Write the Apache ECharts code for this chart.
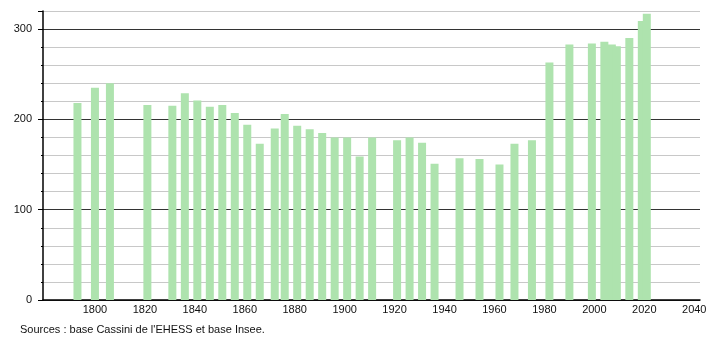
<!DOCTYPE html>
<html>
<head>
<meta charset="utf-8">
<script src="https://cdn.jsdelivr.net/npm/echarts@6/dist/echarts.min.js"></script>
<style>
html,body{margin:0;padding:0;background:#fff;}
#c{width:710px;height:340px;}
</style>
</head>
<body>
<div id="c"></div>
<script>
var years = [1793,1800,1806,1821,1831,1836,1841,1846,1851,1856,1861,1866,1872,1876,1881,1886,1891,1896,1901,1906,1911,1921,1926,1931,1936,1946,1954,1962,1968,1975,1982,1990,1999,2004,2007,2009,2014,2019,2021];
var population = [218,235,240,216,215,229,221,214,216,207,194,173,190,206,193,189,185,180,180,159,180,177,180,174,151,157,156,150,173,177,263,283,284,286,283,281,290,309,317];
var xTickLabels = [1800,1820,1840,1860,1880,1900,1920,1940,1960,1980,2000,2020,2040];
var yTickLabels = [0,100,200,300];
var sourceText = "Sources : base Cassini de l'EHESS et base Insee.";

var data = years.map(function(y,i){return [y, population[i]];});
var font = 'Liberation Sans, Arial, sans-serif';
var chart = echarts.init(document.getElementById('c'));
chart.setOption({
  animation:false,
  backgroundColor:'#fff',
  grid:{left:43,right:10,top:11,bottom:40,containLabel:false},
  xAxis:{
    type:'value', min:1779.2, max:2042.3,
    axisLine:{show:true,lineStyle:{color:'#000',width:1.5}},
    axisTick:{show:false},
    splitLine:{show:false},
    axisLabel:{customValues:xTickLabels,color:'#111',fontFamily:font,fontSize:11,margin:4,
      formatter:function(v){return String(v);}}
  },
  yAxis:[{
    type:'value', min:0, max:320, interval:20,
    axisLine:{show:true,lineStyle:{color:'#000',width:1.5}},
    axisTick:{show:true,length:2,lineStyle:{color:'#000'}},
    splitLine:{show:true,lineStyle:{color:['#333','#c8c8c8','#c8c8c8','#c8c8c8','#c8c8c8'],width:1.2}},
    axisLabel:{color:'#111',fontFamily:font,fontSize:11,margin:11,
      formatter:function(v){return yTickLabels.indexOf(v)>=0 ? String(v) : '';}}
  },{
    type:'value', min:0, max:320, interval:100, position:'left', offset:0,
    axisLine:{show:false},
    axisTick:{show:true,length:5,lineStyle:{color:'#000'}},
    splitLine:{show:false},
    axisLabel:{show:false}
  }],
  series:[{
    type:'bar', data:data, barWidth:8, yAxisIndex:0,
    itemStyle:{color:'#aee3ae'},
    z:3
  }],
  graphic:[{
    type:'text', left:20, top:324,
    style:{text:sourceText,fill:'#111',font:'11px '+font}
  }]
});
</script>
</body>
</html>
